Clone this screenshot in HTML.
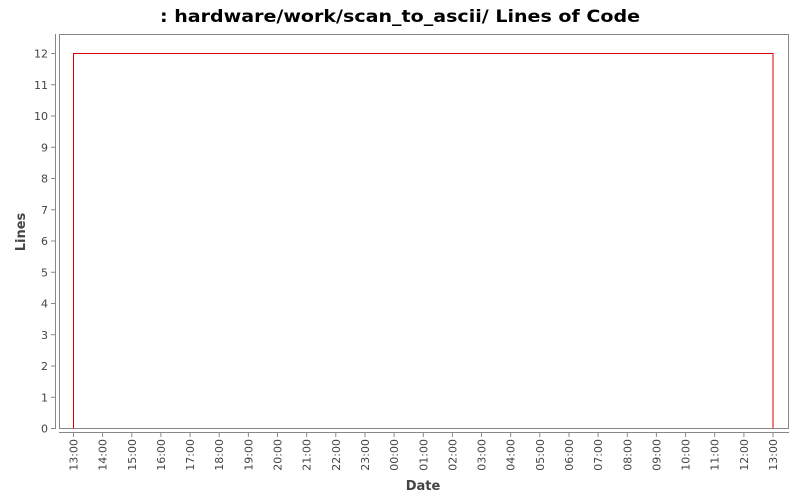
<!DOCTYPE html>
<html><head><meta charset="utf-8"><style>
html,body{margin:0;padding:0;background:#fff;}
svg{display:block;}
text{font-family:"DejaVu Sans","Liberation Sans",sans-serif;}
</style></head><body>
<svg width="800" height="500" viewBox="0 0 800 500" xmlns="http://www.w3.org/2000/svg">
<rect width="800" height="500" fill="#fff"/>
<text x="400" y="22" text-anchor="middle" font-size="17" font-weight="bold" fill="#000" textLength="480" lengthAdjust="spacingAndGlyphs">: hardware/work/scan_to_ascii/ Lines of Code</text>
<rect x="59.5" y="34.5" width="729" height="394" fill="#fff" stroke="#888" stroke-width="1"/>
<line x1="55.5" y1="34" x2="55.5" y2="429" stroke="#888"/>
<line x1="59" y1="432.5" x2="789" y2="432.5" stroke="#888"/>
<g stroke="#888">
<line x1="51" y1="428.5" x2="55.5" y2="428.5"/><line x1="51" y1="397.25" x2="55.5" y2="397.25"/><line x1="51" y1="366" x2="55.5" y2="366"/><line x1="51" y1="334.75" x2="55.5" y2="334.75"/><line x1="51" y1="303.5" x2="55.5" y2="303.5"/><line x1="51" y1="272.25" x2="55.5" y2="272.25"/><line x1="51" y1="241" x2="55.5" y2="241"/><line x1="51" y1="209.75" x2="55.5" y2="209.75"/><line x1="51" y1="178.5" x2="55.5" y2="178.5"/><line x1="51" y1="147.25" x2="55.5" y2="147.25"/><line x1="51" y1="116" x2="55.5" y2="116"/><line x1="51" y1="84.75" x2="55.5" y2="84.75"/><line x1="51" y1="53.5" x2="55.5" y2="53.5"/>
</g>
<g font-size="11" fill="#444" text-anchor="end">
<text x="48" y="432.5">0</text><text x="48" y="401.25">1</text><text x="48" y="370">2</text><text x="48" y="338.75">3</text><text x="48" y="307.5">4</text><text x="48" y="276.25">5</text><text x="48" y="245">6</text><text x="48" y="213.75">7</text><text x="48" y="182.5">8</text><text x="48" y="151.25">9</text><text x="48" y="120">10</text><text x="48" y="88.75">11</text><text x="48" y="57.5">12</text>
</g>
<g stroke="#888">
<line x1="73.5" y1="432.5" x2="73.5" y2="437"/><line x1="102.6" y1="432.5" x2="102.6" y2="437"/><line x1="131.8" y1="432.5" x2="131.8" y2="437"/><line x1="160.9" y1="432.5" x2="160.9" y2="437"/><line x1="190.1" y1="432.5" x2="190.1" y2="437"/><line x1="219.2" y1="432.5" x2="219.2" y2="437"/><line x1="248.4" y1="432.5" x2="248.4" y2="437"/><line x1="277.5" y1="432.5" x2="277.5" y2="437"/><line x1="306.7" y1="432.5" x2="306.7" y2="437"/><line x1="335.8" y1="432.5" x2="335.8" y2="437"/><line x1="365" y1="432.5" x2="365" y2="437"/><line x1="394.1" y1="432.5" x2="394.1" y2="437"/><line x1="423.3" y1="432.5" x2="423.3" y2="437"/><line x1="452.4" y1="432.5" x2="452.4" y2="437"/><line x1="481.5" y1="432.5" x2="481.5" y2="437"/><line x1="510.7" y1="432.5" x2="510.7" y2="437"/><line x1="539.8" y1="432.5" x2="539.8" y2="437"/><line x1="569" y1="432.5" x2="569" y2="437"/><line x1="598.1" y1="432.5" x2="598.1" y2="437"/><line x1="627.3" y1="432.5" x2="627.3" y2="437"/><line x1="656.4" y1="432.5" x2="656.4" y2="437"/><line x1="685.6" y1="432.5" x2="685.6" y2="437"/><line x1="714.7" y1="432.5" x2="714.7" y2="437"/><line x1="743.9" y1="432.5" x2="743.9" y2="437"/><line x1="773" y1="432.5" x2="773" y2="437"/>
</g>
<g font-size="11" fill="#444" text-anchor="end">
<text transform="translate(77.5,439) rotate(-90)">13:00</text>
<text transform="translate(106.6,439) rotate(-90)">14:00</text>
<text transform="translate(135.8,439) rotate(-90)">15:00</text>
<text transform="translate(164.9,439) rotate(-90)">16:00</text>
<text transform="translate(194.1,439) rotate(-90)">17:00</text>
<text transform="translate(223.2,439) rotate(-90)">18:00</text>
<text transform="translate(252.4,439) rotate(-90)">19:00</text>
<text transform="translate(281.5,439) rotate(-90)">20:00</text>
<text transform="translate(310.7,439) rotate(-90)">21:00</text>
<text transform="translate(339.8,439) rotate(-90)">22:00</text>
<text transform="translate(369,439) rotate(-90)">23:00</text>
<text transform="translate(398.1,439) rotate(-90)">00:00</text>
<text transform="translate(427.3,439) rotate(-90)">01:00</text>
<text transform="translate(456.4,439) rotate(-90)">02:00</text>
<text transform="translate(485.5,439) rotate(-90)">03:00</text>
<text transform="translate(514.7,439) rotate(-90)">04:00</text>
<text transform="translate(543.8,439) rotate(-90)">05:00</text>
<text transform="translate(573,439) rotate(-90)">06:00</text>
<text transform="translate(602.1,439) rotate(-90)">07:00</text>
<text transform="translate(631.3,439) rotate(-90)">08:00</text>
<text transform="translate(660.4,439) rotate(-90)">09:00</text>
<text transform="translate(689.6,439) rotate(-90)">10:00</text>
<text transform="translate(718.7,439) rotate(-90)">11:00</text>
<text transform="translate(747.9,439) rotate(-90)">12:00</text>
<text transform="translate(777,439) rotate(-90)">13:00</text>
</g>
<polyline points="73.5,428.5 73.5,53.5 773,53.5 773,428.5" fill="none" stroke="#e00000" stroke-width="1"/>
<text x="423" y="490" text-anchor="middle" font-size="13" font-weight="bold" fill="#444">Date</text>
<text transform="translate(25,232) rotate(-90)" text-anchor="middle" font-size="13" font-weight="bold" fill="#444">Lines</text>
</svg>
</body></html>
